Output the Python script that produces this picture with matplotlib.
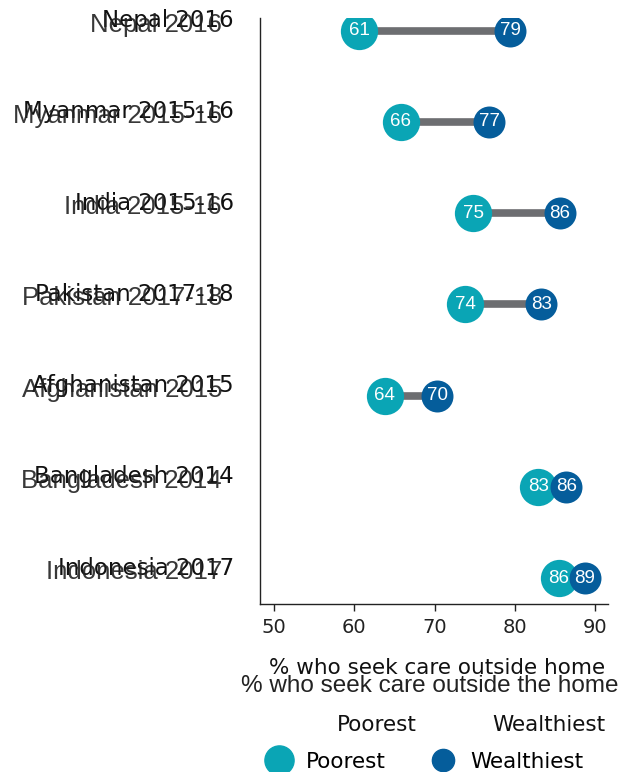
import matplotlib
matplotlib.use("Agg")
import matplotlib.pyplot as plt
from matplotlib.lines import Line2D
from matplotlib.transforms import blended_transform_factory, offset_copy

countries = ["Nepal 2016", "Myanmar 2015-16", "India 2015-16", "Pakistan 2017-18",
             "Afghanistan 2015", "Bangladesh 2014", "Indonesia 2017"]
poorest = [60.6, 65.8, 74.8, 73.8, 63.8, 82.9, 85.5]
wealthiest = [79.4, 76.8, 85.6, 83.3, 70.3, 86.4, 88.7]
poorest_labels = ["61", "66", "75", "74", "64", "83", "86"]
wealthiest_labels = ["79", "77", "86", "83", "70", "86", "89"]
xticks = [50, 60, 70, 80, 90]

TEAL = "#0aa5b5"
BLUE = "#055d9b"
GREY = "#6d6e71"
GEO = "DejaVu Sans"
ALT = "Liberation Sans"

fig = plt.figure(figsize=(6.26, 7.72), dpi=100)
ax = fig.add_axes([260/626, 1-604/772, 348/626, 586/772])

ys = list(range(len(countries)))
for y, p, w in zip(ys, poorest, wealthiest):
    ax.plot([p, w], [y, y], color=GREY, lw=5.5, solid_capstyle="butt", zorder=1)
ax.scatter(poorest, ys, s=720, color=TEAL, zorder=2, linewidths=0)
ax.scatter(wealthiest, ys, s=530, color=BLUE, zorder=3, linewidths=0)
for y, p, w, pl, wl in zip(ys, poorest, wealthiest, poorest_labels, wealthiest_labels):
    ax.text(p, y, pl, color="white", ha="center", va="center", fontsize=13.5,
            family=ALT, zorder=4)
    ax.text(w, y, wl, color="white", ha="center", va="center", fontsize=13.5,
            family=ALT, zorder=5)

ax.set_xlim(48.25, 91.6)
ax.set_ylim(6.285, -0.14)
ax.set_xticks(xticks)
ax.set_xticklabels([str(t) for t in xticks], fontsize=14, family=GEO)
ax.tick_params(axis="x", length=5, width=1, pad=5, colors="#222222")
ax.set_yticks([])
for s in ["top", "right"]:
    ax.spines[s].set_visible(False)
for s in ["left", "bottom"]:
    ax.spines[s].set_linewidth(1)
    ax.spines[s].set_color("#222222")

# duplicated category labels
tr = blended_transform_factory(ax.transAxes, ax.transData)
trA = offset_copy(tr, fig=fig, x=-26*0.72, y=10*0.72, units="points")
trB = offset_copy(tr, fig=fig, x=-38*0.72, y=6*0.72, units="points")
for y, c in zip(ys, countries):
    ax.text(0, y, c, transform=trA, ha="right", va="center", fontsize=16.5,
            family=GEO, color="#111111")
    ax.text(0, y, c, transform=trB, ha="right", va="center", fontsize=18.5,
            family=ALT, color="#222222", alpha=0.9)

# duplicated axis titles
fig.text(437/626, 1-668/772, "% who seek care outside home", ha="center", va="center",
         fontsize=15.5, family=GEO, color="#111111")
fig.text(430/626, 1-686/772, "% who seek care outside the home", ha="center", va="center",
         fontsize=17.5, family=ALT, color="#222222")

# legend
fig.text(377/626, 1-725/772, "Poorest", ha="center", va="center", fontsize=15.5,
         family=GEO, color="#111111")
fig.text(549/626, 1-725/772, "Wealthiest", ha="center", va="center", fontsize=15.5,
         family=GEO, color="#111111")
handles = [Line2D([], [], marker="o", ls="", markersize=21, color=TEAL, label="Poorest"),
           Line2D([], [], marker="o", ls="", markersize=16, color=BLUE, label="Wealthiest")]
fig.legend(handles=handles, loc="center", bbox_to_anchor=(424/626, 1-762/772), ncol=2,
           frameon=False, prop={"family": GEO, "size": 15.5}, handletextpad=0.6,
           columnspacing=2.0, handlelength=1.3, borderpad=0.2)

fig.savefig("out.png", dpi=100)
